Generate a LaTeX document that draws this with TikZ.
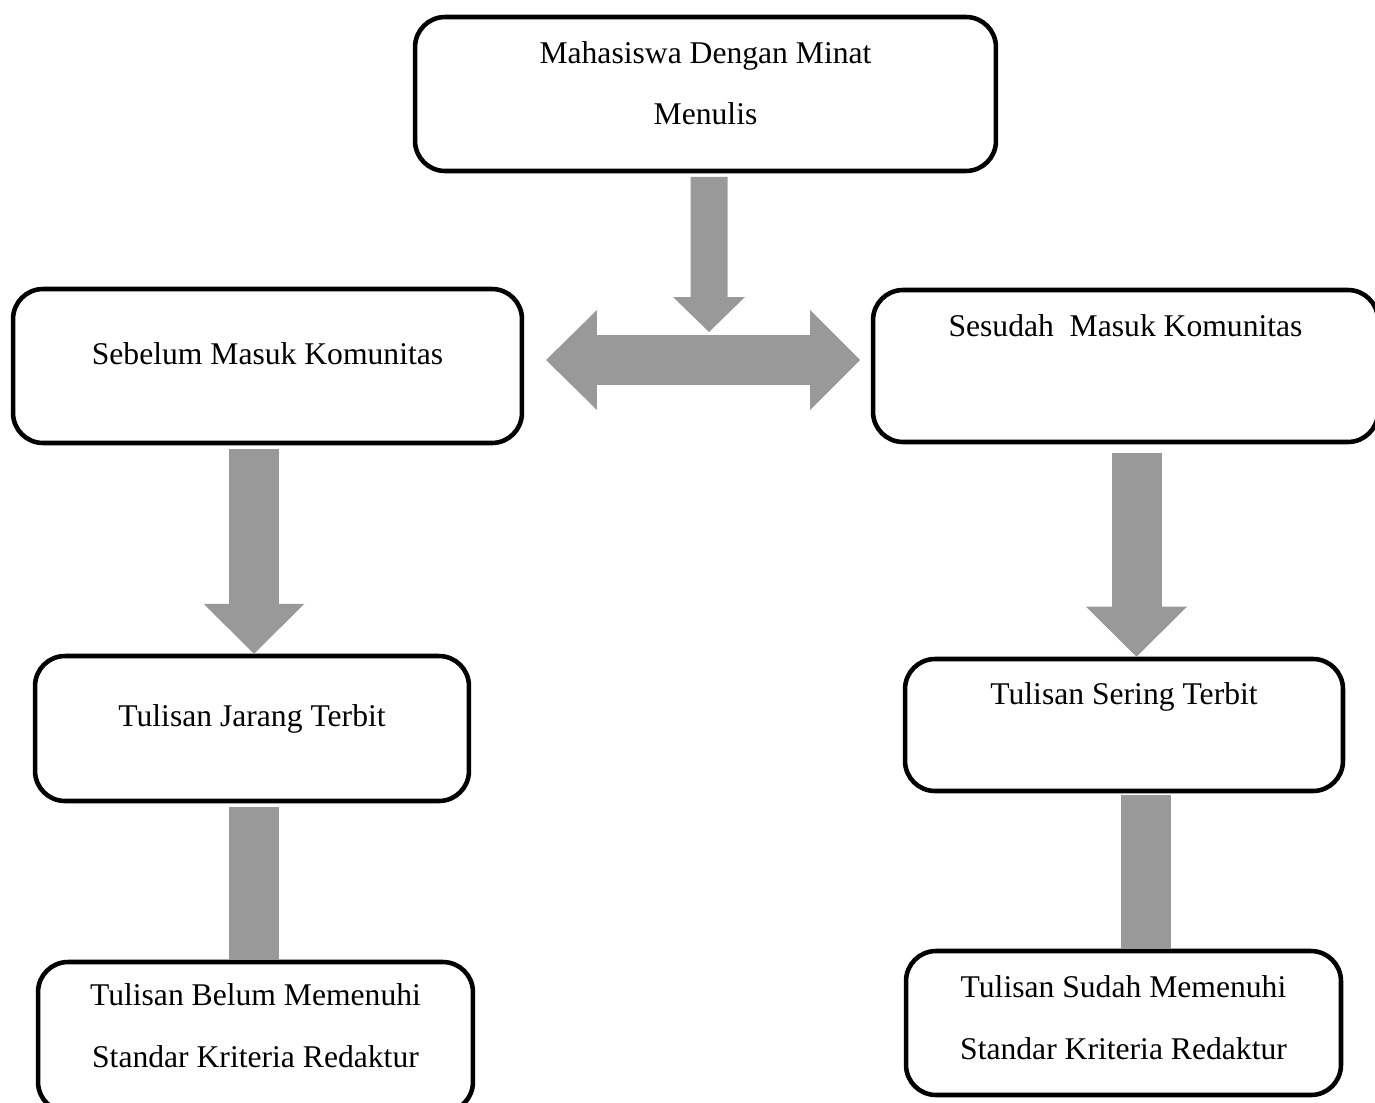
\documentclass[tikz,border=0pt]{standalone}
\usepackage{fontspec}
\setmainfont{Liberation Serif}
\usetikzlibrary{arrows.meta,calc}

\definecolor{arrowgray}{gray}{0.6}

\tikzset{
  box/.style={draw, line width=2.6pt, rounded corners=0.6cm, align=center,
    font=\fontsize{18pt}{35pt}\selectfont},
  twolines/.style={text height=1.66cm, text depth=#1},
  fatarrow/.style={arrowgray, line width=1cm,
    -{Triangle[width=2.02cm,length=1cm,line width=0pt]}},
  thinarrow/.style={arrowgray, line width=0.74cm,
    -{Triangle[width=1.44cm,length=0.7cm,line width=0pt]}},
  twoarrow/.style={arrowgray, line width=1cm,
    {Triangle[width=2cm,length=1.02cm,line width=0pt]}-{Triangle[width=2cm,length=1cm,line width=0pt]}},
  bar/.style={arrowgray, line width=1cm},
}

\begin{document}
\begin{tikzpicture}[x=0.02cm, y=-0.02cm]
      \useasboundingbox (0,0) rectangle (1375,1102);

      % BOXES
      \node[box, minimum width=11.62cm, minimum height=3.08cm, twolines=0.42cm]
        (minat) at (705.5,94) {Mahasiswa Dengan Minat\\Menulis};

      \node[box, minimum width=10.18cm, minimum height=3.08cm, text depth=0.51cm]
        (sebelum) at (267.5,366) {Sebelum Masuk Komunitas};
      \node[box, minimum width=10.1cm, minimum height=3.04cm, text depth=1.63cm]
        (sesudah) at (1125.5,366) {Sesudah\ \ Masuk Komunitas};

      \node[box, minimum width=8.68cm, minimum height=2.9cm, text depth=0.51cm]
        (jarang) at (252,728.5) {Tulisan Jarang Terbit};
      \node[box, minimum width=8.76cm, minimum height=2.64cm, text depth=1.27cm]
        (sering) at (1124,725) {Tulisan Sering Terbit};

      \node[box, minimum width=8.7cm, minimum height=3cm, twolines=0.46cm]
        (belum) at (255.5,1037) {Tulisan Belum Memenuhi\\Standar Kriteria Redaktur};
      \node[box, minimum width=8.7cm, minimum height=2.88cm, twolines=0.22cm]
        (sudah) at (1123.5,1023) {Tulisan Sudah Memenuhi\\Standar Kriteria Redaktur};

      % ENDS OF THE DOUBLE ARROW
      \coordinate (kiri)  at (546,360);
      \coordinate (kanan) at (860,360);
      \coordinate (tengah) at (709,332);

      % ARROWS
      \draw[thinarrow] ($(minat.south)+(3.5,3.5)$) -- (tengah);
      \draw[twoarrow] (kiri) -- (kanan);
      \draw[fatarrow] ($(jarang.north |- sebelum.south)+(2,3.5)$) -- ($(jarang.north)+(2,0)$);
      \draw[fatarrow] ($(sering.north |- sesudah.south)+(12.5,8.5)$) -- ($(sering.north)+(12.5,0)$);

      % BARS
      \draw[bar] ($(jarang.south)+(2,3.5)$) -- ($(jarang.south |- belum.north)+(2,0)$);
      \draw[bar] ($(sering.south)+(22,1.5)$) -- ($(sering.south |- sudah.north)+(22,0)$);
\end{tikzpicture}
\end{document}
